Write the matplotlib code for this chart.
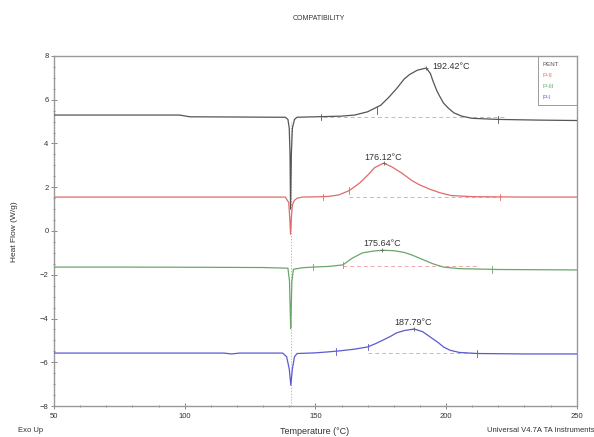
import matplotlib
matplotlib.use("Agg")
import matplotlib.pyplot as plt
from matplotlib.ticker import MultipleLocator

plt.rcParams['font.family'] = ['Liberation Sans', 'DejaVu Sans']

# ---- data ----
pent_x = [50, 70, 98, 102, 120, 135, 138.5, 139.5, 140.0, 140.3, 140.5, 140.8, 141.2, 142, 143,
          150, 160, 165, 170, 175, 178, 181, 184, 186, 189, 192.42, 194, 195, 196.5, 197.6,
          199, 201, 203, 206, 210, 220, 235, 250]
pent_y = [5.30, 5.30, 5.30, 5.22, 5.21, 5.20, 5.20, 5.10, 4.70, 3.50, 1.00, 3.50, 4.70, 5.10, 5.20,
          5.22, 5.25, 5.30, 5.45, 5.75, 6.10, 6.50, 6.95, 7.15, 7.35, 7.45, 7.20, 6.85, 6.40, 6.15,
          5.85, 5.60, 5.40, 5.25, 5.15, 5.10, 5.07, 5.05]

p2_x = [50, 80, 110, 130, 138.5, 139.8, 140.2, 140.5, 140.8, 141.2, 142, 143, 145, 150, 155,
        159, 163, 167, 170, 172.7, 176.12, 179, 183, 187, 190, 194, 197.6, 202, 210, 230, 250]
p2_y = [1.55, 1.55, 1.55, 1.55, 1.55, 1.30, 0.60, -0.15, 0.60, 1.20, 1.40, 1.50, 1.55, 1.56, 1.58,
        1.65, 1.85, 2.20, 2.55, 2.90, 3.10, 2.95, 2.65, 2.30, 2.10, 1.90, 1.75, 1.62, 1.57, 1.55, 1.55]

p3_x = [50, 80, 110, 130, 139.5, 140.1, 140.4, 140.55, 140.7, 141.0, 141.6, 145, 149, 155,
        160.5, 164, 168, 172, 175.64, 180, 184, 187, 191, 195, 199, 205, 220, 250]
p3_y = [-1.65, -1.65, -1.66, -1.67, -1.70, -2.30, -3.80, -4.45, -3.80, -2.30, -1.75, -1.68, -1.65, -1.62,
        -1.55, -1.25, -1.00, -0.92, -0.88, -0.90, -0.98, -1.10, -1.30, -1.50, -1.65, -1.72, -1.76, -1.78]

p1_x = [50, 80, 115, 118, 121, 137.5, 139, 140, 140.6, 141.2, 142, 143, 150, 155.5, 160, 165,
        170, 173, 176, 179, 181, 184, 187.79, 191, 194, 197, 199, 201.5, 205, 212, 230, 250]
p1_y = [-5.58, -5.58, -5.58, -5.62, -5.58, -5.58, -5.75, -6.30, -7.05, -6.30, -5.75, -5.60, -5.57, -5.52,
        -5.47, -5.40, -5.30, -5.15, -4.98, -4.80, -4.66, -4.55, -4.48, -4.60, -4.85, -5.10, -5.30, -5.45,
        -5.55, -5.60, -5.62, -5.62]

series_names = ["PENT", "P-II", "P-III", "P-I"]
series_colors = ["#555555", "#e06a6a", "#6aa66a", "#5a5ad0"]

peak_temps = [192.42, 176.12, 175.64, 187.79]
peak_vals = [7.45, 3.10, -0.88, -4.48]
peak_labels = ["192.42°C", "176.12°C", "175.64°C", "187.79°C"]

# analysis baselines (x start, x end, y)
base_x0 = [153, 163, 160.5, 170]
base_x1 = [222, 221, 212, 212]
base_y = [5.2, 1.55, -1.62, -5.56]

# small analysis markers
marker_x = [[152, 173.5, 220], [153, 163, 220.5], [149, 160.5, 217.5], [158, 170, 212]]
marker_y = [[5.22, 5.5, 5.1], [1.56, 1.85, 1.55], [-1.65, -1.55, -1.76], [-5.5, -5.3, -5.6]]

fig = plt.figure(figsize=(5.94, 4.37), dpi=100)
ax = fig.add_axes([0.0909, 0.0709, 0.8801, 0.801])

data = [(pent_x, pent_y), (p2_x, p2_y), (p3_x, p3_y), (p1_x, p1_y)]

# faint dotted vertical at the sharp transition
ax.plot([140.5, 140.5], [-8, 5.0], color="#aaaaaa", lw=0.6, ls=(0, (1.5, 2)), zorder=1)

for (xs, ys), c in zip(data, series_colors):
    ax.plot(xs, ys, color=c, lw=0.9, zorder=3)

for x0, x1, yb in zip(base_x0, base_x1, base_y):
    ax.plot([x0, x1], [yb, yb], color="#f2a6ae", lw=0.7, ls=(0, (4, 3)), zorder=2)

for mxs, mys, c in zip(marker_x, marker_y, series_colors):
    for mx, my in zip(mxs, mys):
        ax.plot([mx, mx], [my - 0.15, my + 0.15], color=c, lw=0.6, zorder=4)

label_pos = [(194.6, 7.54, 'left'), (176.0, 3.34, 'center'), (175.4, -0.55, 'center'), (187.3, -4.2, 'center')]
for (lx, ly, ha), t, pt, pv in zip(label_pos, peak_labels, peak_temps, peak_vals):
    ax.text(lx, ly, t, fontsize=6.5, ha=ha, va='center', color="#333333", zorder=5)
    ax.plot([pt], [pv], marker='+', ms=3, mew=0.6, color="#666666", zorder=5)

ax.set_xlim(50, 250)
ax.set_ylim(-8, 8)
ax.xaxis.set_major_locator(MultipleLocator(50))
ax.xaxis.set_minor_locator(MultipleLocator(10))
ax.yaxis.set_major_locator(MultipleLocator(2))
ax.yaxis.set_minor_locator(MultipleLocator(0.5))
ax.tick_params(which='both', direction='inout', colors="#888888", labelcolor="#333333",
               labelsize=5.5, width=0.7)
ax.tick_params(which='major', length=4)
ax.tick_params(which='minor', length=2)
ax.tick_params(axis='x', pad=3)
ax.tick_params(axis='y', pad=2)
for s in ax.spines.values():
    s.set_color("#999999")
    s.set_linewidth(1.0)

# legend box (top right inside)
ax.plot([0.925, 0.925, 1.0], [1.0, 0.86, 0.86], transform=ax.transAxes, color="#999999", lw=0.7,
        clip_on=False)
leg_y = [0.975, 0.944, 0.913, 0.881]
for name, c, yy in zip(series_names, series_colors, leg_y):
    ax.text(0.935, yy, name, transform=ax.transAxes, fontsize=4.5, color=c, va='center', ha='left')

fig.text(0.537, 0.958, "COMPATIBILITY", fontsize=5, ha='center', va='center', color="#333333")
fig.text(0.025, 0.47, "Heat Flow (W/g)", fontsize=6, rotation=90, ha='center', va='center', color="#333333")
fig.text(0.03, 0.016, "Exo Up", fontsize=5.5, ha='left', va='center', color="#333333")
fig.text(0.53, 0.012, "Temperature (°C)", fontsize=6.5, ha='center', va='center', color="#333333")
fig.text(0.82, 0.016, "Universal V4.7A TA Instruments", fontsize=5.5, ha='left', va='center', color="#333333")

fig.savefig("out.png", dpi=100)
